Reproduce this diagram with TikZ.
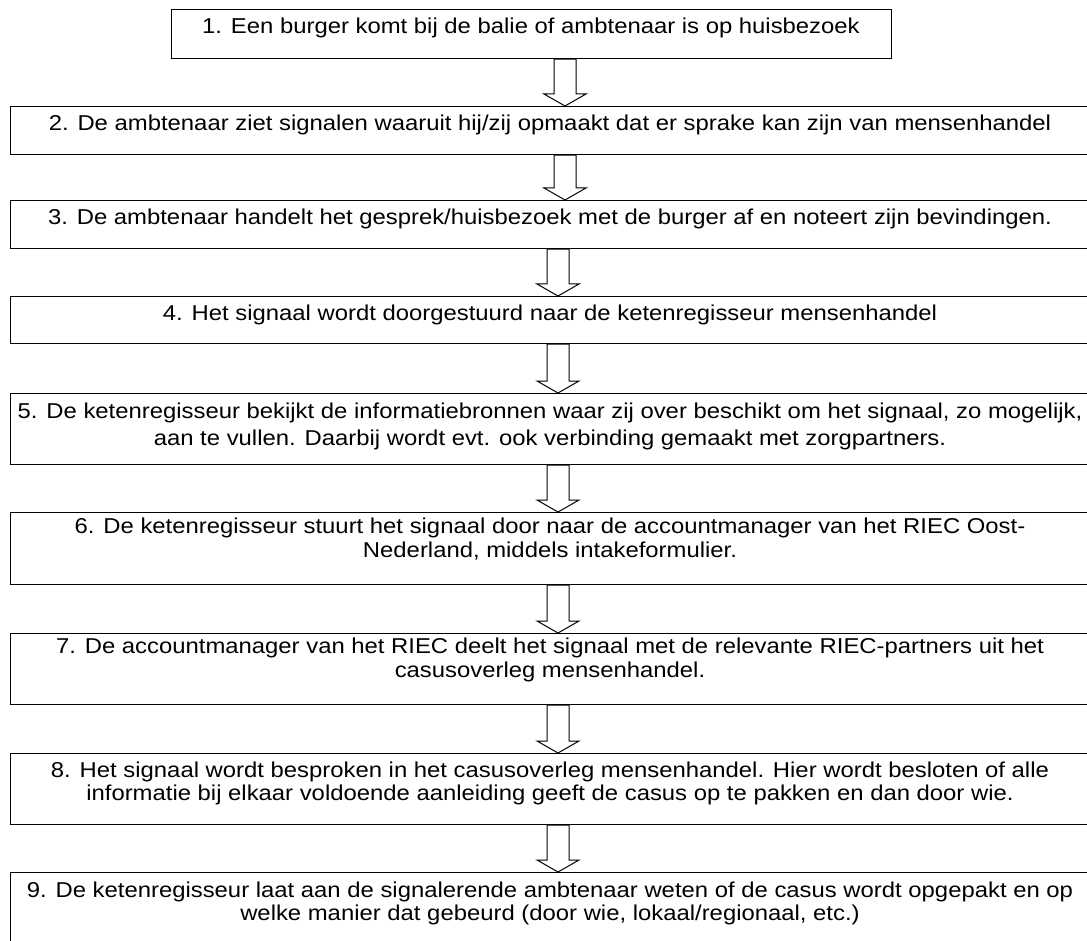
\documentclass[tikz,border=0pt]{standalone}
\usepackage{fontspec}
\setmainfont[FakeStretch=1.11]{Liberation Sans}
\usetikzlibrary{calc}
\tikzset{
  box/.style={draw=black, line width=1.2pt, fill=white, rectangle, inner sep=0pt, anchor=north west},
  txt/.style={inner sep=0pt, anchor=base, font=\fontsize{21.5}{24}\selectfont},
  blockarr/.style={draw=black, line width=1pt, fill=white, line join=miter}
}
\newcommand\blockarrow[3]{%
  \path[blockarr] let \p1=(#1.south), \p2=(#2.north) in
    ({#3pt-11pt},{\y1}) -- ({#3pt-11pt},{\y2+12pt}) -- ({#3pt-21pt},{\y2+12pt})
    -- ({#3pt},{\y2}) -- ({#3pt+21pt},{\y2+12pt}) -- ({#3pt+11pt},{\y2+12pt})
    -- ({#3pt+11pt},{\y1}) -- cycle;}
\begin{document}
\begin{tikzpicture}[x=1pt,y=-1pt]
\useasboundingbox (0,0) rectangle (1087,941);
\fill[white] (0,0) rectangle (1087,941);
% boxes
\node[box, minimum width=720, minimum height=49] (b1) at (171,9) {};
\node[box, minimum width=1082, minimum height=48] (b2) at (10,106) {};
\node[box, minimum width=1082, minimum height=48] (b3) at (10,200) {};
\node[box, minimum width=1082, minimum height=47] (b4) at (10,296) {};
\node[box, minimum width=1082, minimum height=71] (b5) at (10,393) {};
\node[box, minimum width=1082, minimum height=72] (b6) at (10,512) {};
\node[box, minimum width=1082, minimum height=71] (b7) at (10,633) {};
\node[box, minimum width=1082, minimum height=71] (b8) at (10,753) {};
\node[box, minimum width=1082, minimum height=80] (b9) at (10,872) {};
% texts
\node[txt] (t1) at (531,34) {1. Een burger komt bij de balie of ambtenaar is op huisbezoek};
\node[txt] (t2) at (550,131) {2. De ambtenaar ziet signalen waaruit hij/zij opmaakt dat er sprake kan zijn van mensenhandel};
\node[txt] (t3) at (550,225) {3. De ambtenaar handelt het gesprek/huisbezoek met de burger af en noteert zijn bevindingen.};
\node[txt] (t4) at (550,321) {4. Het signaal wordt doorgestuurd naar de ketenregisseur mensenhandel};
\node[txt] (t5a) at (550,418) {5. De ketenregisseur bekijkt de informatiebronnen waar zij over beschikt om het signaal, zo mogelijk,};
\node[txt] (t5b) at (550,445) {aan te vullen. Daarbij wordt evt. ook verbinding gemaakt met zorgpartners.};
\node[txt] (t6a) at (550,533) {6. De ketenregisseur stuurt het signaal door naar de accountmanager van het RIEC Oost-};
\node[txt] (t6b) at (550,557) {Nederland, middels intakeformulier.};
\node[txt] (t7a) at (550,653) {7. De accountmanager van het RIEC deelt het signaal met de relevante RIEC-partners uit het};
\node[txt] (t7b) at (550,677) {casusoverleg mensenhandel.};
\node[txt] (t8a) at (550,777) {8. Het signaal wordt besproken in het casusoverleg mensenhandel. Hier wordt besloten of alle};
\node[txt] (t8b) at (550,800) {informatie bij elkaar voldoende aanleiding geeft de casus op te pakken en dan door wie.};
\node[txt] (t9a) at (550,897) {9. De ketenregisseur laat aan de signalerende ambtenaar weten of de casus wordt opgepakt en op};
\node[txt] (t9b) at (550,920) {welke manier dat gebeurd (door wie, lokaal/regionaal, etc.)};
% arrows
\blockarrow{b1}{b2}{565}
\blockarrow{b2}{b3}{565}
\blockarrow{b3}{b4}{558}
\blockarrow{b4}{b5}{558}
\blockarrow{b5}{b6}{558}
\blockarrow{b6}{b7}{558}
\blockarrow{b7}{b8}{558}
\blockarrow{b8}{b9}{558}
\end{tikzpicture}
\end{document}
